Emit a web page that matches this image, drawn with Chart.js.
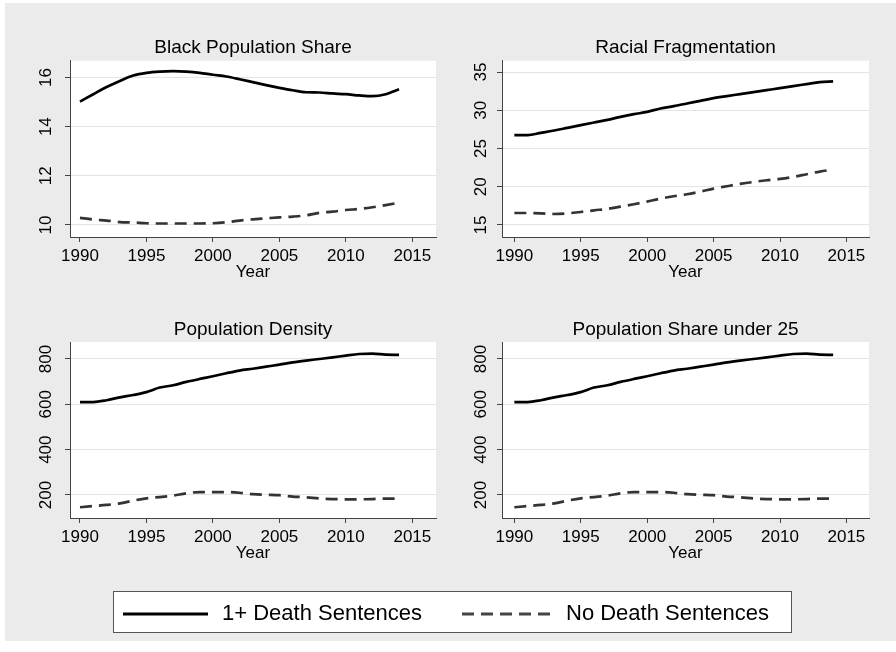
<!DOCTYPE html>
<html>
<head>
<meta charset="utf-8">
<script src="https://cdn.jsdelivr.net/npm/chart.js@4/dist/chart.umd.min.js"></script>
<style>
  html, body { margin: 0; padding: 0; background: #ffffff; }
  body { width: 896px; height: 652px; position: relative; overflow: hidden;
         font-family: "Liberation Sans", Arial, sans-serif; }
  #region { position: absolute; left: 5px; top: 3px; width: 891px; height: 638px; background: #ebebeb; }
  canvas { position: absolute; }
  #legend { position: absolute; left: 113px; top: 591px; width: 679px; height: 42px;
            box-sizing: border-box; border: 1px solid #555; background: #fff; }
  .lg-text { position: absolute; top: 600px; font-size: 22px; line-height: 26px; color: #000; white-space: nowrap; }
  #legend-lines { position: absolute; left: 0; top: 0; }
</style>
</head>
<body>
<div id="region"></div>
<canvas id="c1" width="448" height="290" style="left:0;top:0"></canvas>
<canvas id="c2" width="448" height="290" style="left:448px;top:0"></canvas>
<canvas id="c3" width="448" height="290" style="left:0;top:290px"></canvas>
<canvas id="c4" width="448" height="290" style="left:448px;top:290px"></canvas>
<div id="legend"></div>
<svg id="legend-lines" width="896" height="652">
  <line x1="123" y1="614" x2="208" y2="614" stroke="#000" stroke-width="2.8"/>
  <line x1="462" y1="614" x2="555" y2="614" stroke="#444" stroke-width="2.8" stroke-dasharray="12 7"/>
</svg>
<div class="lg-text" style="left:222px">1+ Death Sentences</div>
<div class="lg-text" style="left:566px">No Death Sentences</div>

<script>
// Years covered by every panel
const years = [1990, 1991, 1992, 1993, 1994, 1995, 1996, 1997, 1998, 1999, 2000, 2001, 2002,
               2003, 2004, 2005, 2006, 2007, 2008, 2009, 2010, 2011, 2012, 2013, 2014];
const yearTicks = [1990, 1995, 2000, 2005, 2010, 2015];

// Black Population Share
const blackShareDeath = [15.02, 15.32, 15.61, 15.86, 16.08, 16.19, 16.24, 16.26, 16.24, 16.19, 16.11, 16.04, 15.93,
                         15.81, 15.69, 15.58, 15.48, 15.40, 15.39, 15.35, 15.32, 15.27, 15.24, 15.32, 15.52];
const blackShareNone  = [10.29, 10.22, 10.18, 10.12, 10.10, 10.07, 10.06, 10.06, 10.06, 10.06, 10.07, 10.11, 10.18,
                         10.23, 10.27, 10.31, 10.34, 10.39, 10.49, 10.54, 10.61, 10.65, 10.72, 10.81, 10.91];
const blackShareTicks = [10, 12, 14, 16];

// Racial Fragmentation
const fragDeath = [26.75, 26.75, 27.05, 27.36, 27.71, 28.06, 28.41, 28.76, 29.15, 29.50, 29.80, 30.24, 30.55,
                   30.90, 31.24, 31.59, 31.86, 32.12, 32.38, 32.64, 32.90, 33.17, 33.43, 33.69, 33.78];
const fragNone  = [16.57, 16.57, 16.53, 16.44, 16.53, 16.70, 16.92, 17.10, 17.40, 17.71, 18.06, 18.45, 18.76,
                   19.02, 19.37, 19.76, 20.07, 20.37, 20.63, 20.85, 21.03, 21.29, 21.64, 21.99, 22.25];
const fragTicks = [15, 20, 25, 30, 35];

// Population Density
const densityDeath = [610, 610, 618, 631, 641, 654, 674, 684, 699, 712, 724, 737, 749,
                      757, 766, 775, 785, 793, 800, 807, 815, 822, 824, 819, 818];
const densityNone  = [146, 151, 156, 163, 175, 185, 191, 197, 207, 213, 213, 213, 210,
                      204, 201, 199, 193, 190, 185, 182, 181, 181, 182, 184, 184];
const densityTicks = [200, 400, 600, 800];

// Population Share under 25
const under25Death = [610, 610, 618, 631, 641, 654, 674, 684, 699, 712, 724, 737, 749,
                      757, 766, 775, 785, 793, 800, 807, 815, 822, 824, 819, 818];
const under25None  = [146, 151, 156, 163, 175, 185, 191, 197, 207, 213, 213, 213, 210,
                      204, 201, 199, 193, 190, 185, 182, 181, 181, 182, 184, 184];
const under25Ticks = [200, 400, 600, 800];

const FONT = '"Liberation Sans", Arial, sans-serif';
const AXIS = '#444';
const GRID = '#e4e4e4';

// White plot region behind the lines
const plotBackground = {
  id: 'plotBackground',
  beforeDraw(chart) {
    const a = chart.chartArea, ctx = chart.ctx;
    ctx.save();
    ctx.fillStyle = '#ffffff';
    ctx.fillRect(a.left, a.top, a.right - a.left, a.bottom - a.top);
    ctx.restore();
  }
};

// Vertical y tick labels, reading bottom to top
const verticalYLabels = {
  id: 'verticalYLabels',
  afterDraw(chart, args, opts) {
    const s = chart.scales.y, ctx = chart.ctx;
    ctx.save();
    ctx.font = '17px ' + FONT;
    ctx.fillStyle = '#000';
    ctx.textAlign = 'center';
    ctx.textBaseline = 'middle';
    s.ticks.forEach(t => {
      ctx.save();
      ctx.translate(chart.chartArea.left - opts.offset, s.getPixelForValue(t.value));
      ctx.rotate(-Math.PI / 2);
      ctx.fillText(String(t.value), 0, 0);
      ctx.restore();
    });
    ctx.restore();
  }
};

const toPoints = vals => years.map((yr, i) => ({ x: yr, y: vals[i] }));

function drawPanel(id, title, death, none, yTicks, lay) {
  new Chart(document.getElementById(id), {
    type: 'line',
    data: {
      datasets: [
        { label: '1+ Death Sentences', data: toPoints(death), borderColor: '#000',
          borderWidth: 2.7, pointRadius: 0, cubicInterpolationMode: 'monotone' },
        { label: 'No Death Sentences', data: toPoints(none), borderColor: '#333',
          borderWidth: 2.7, borderDash: [12, 7], pointRadius: 0, cubicInterpolationMode: 'monotone' }
      ]
    },
    options: {
      responsive: false,
      animation: false,
      events: [],
      layout: { padding: { left: 0, right: lay.padRight, top: 0, bottom: lay.padBottom } },
      plugins: {
        legend: { display: false },
        tooltip: { enabled: false },
        title: {
          display: true, text: title, color: '#000', fullSize: false,
          font: { family: FONT, size: 19, weight: 'normal', lineHeight: 1.2 },
          padding: { top: lay.titleTop, bottom: lay.titleBottom }
        },
        verticalYLabels: { offset: lay.yLabelOffset }
      },
      scales: {
        x: {
          type: 'linear', min: lay.xMin, max: lay.xMax,
          afterBuildTicks: s => { s.ticks = yearTicks.map(v => ({ value: v })); },
          afterFit: s => { s.height = 46; },
          grid: { drawOnChartArea: false, drawTicks: true, tickLength: 5, tickColor: AXIS, tickWidth: 1 },
          border: { display: true, color: AXIS, width: 1 },
          ticks: { color: '#000', padding: 4, maxRotation: 0, autoSkip: false,
                   font: { family: FONT, size: 17 }, callback: v => String(v) },
          title: { display: true, text: 'Year', color: '#000', padding: 0,
                   font: { family: FONT, size: 17, lineHeight: 1.2 } }
        },
        y: {
          type: 'linear', min: lay.yMin, max: lay.yMax,
          afterBuildTicks: s => { s.ticks = yTicks.map(v => ({ value: v })); },
          afterFit: s => { s.width = lay.yWidth; },
          grid: { color: GRID, lineWidth: 1, drawTicks: true, tickLength: 5, tickColor: AXIS, tickWidth: 1 },
          border: { display: true, color: AXIS, width: 1 },
          ticks: { display: false }
        }
      }
    },
    plugins: [plotBackground, verticalYLabels]
  });
}

drawPanel('c1', 'Black Population Share', blackShareDeath, blackShareNone, blackShareTicks,
  { padRight: 12, padBottom: 7, titleTop: 36, titleBottom: 2, yWidth: 70, yLabelOffset: 24,
    xMin: 1989.25, xMax: 2016.78, yMin: 9.511, yMax: 16.679 });
drawPanel('c2', 'Racial Fragmentation', fragDeath, fragNone, fragTicks,
  { padRight: 27, padBottom: 7, titleTop: 36, titleBottom: 2, yWidth: 54, yLabelOffset: 21,
    xMin: 1989.07, xMax: 2016.7, yMin: 13.43, yMax: 36.48 });
drawPanel('c3', 'Population Density', densityDeath, densityNone, densityTicks,
  { padRight: 12, padBottom: 16, titleTop: 28.6, titleBottom: 0.6, yWidth: 70, yLabelOffset: 24,
    xMin: 1989.25, xMax: 2016.78, yMin: 98.5, yMax: 875 });
drawPanel('c4', 'Population Share under 25', under25Death, under25None, under25Ticks,
  { padRight: 27, padBottom: 16, titleTop: 28.6, titleBottom: 0.6, yWidth: 54, yLabelOffset: 21,
    xMin: 1989.07, xMax: 2016.7, yMin: 98.5, yMax: 875 });
</script>
</body>
</html>
